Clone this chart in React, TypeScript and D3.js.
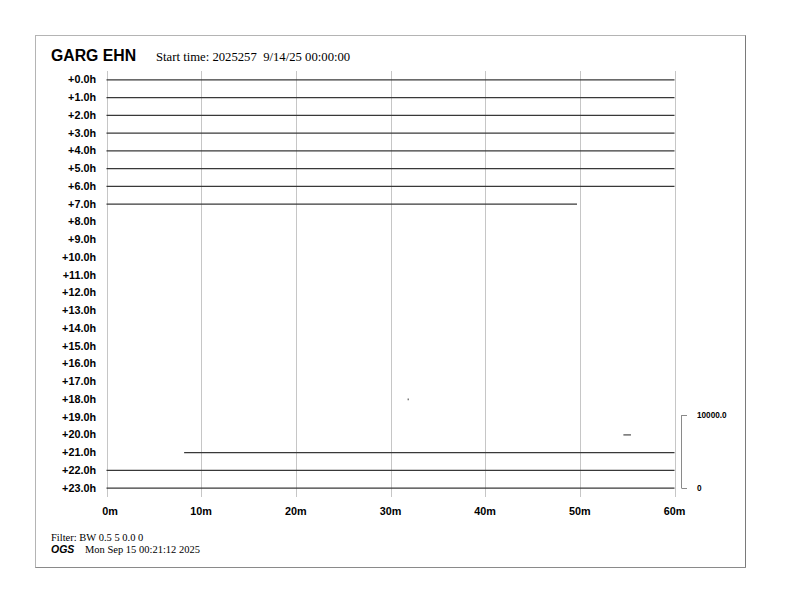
import React from "react";
import * as d3 from "d3";

// Helicorder header
const station = "GARG EHN";
const startTime = "Start time: 2025257  9/14/25 00:00:00";
const filterText = "Filter: BW 0.5 5 0.0 0";
const agency = "OGS";
const plotTime = "Mon Sep 15 00:21:12 2025";

// One row per hour, 60 minutes across
const hourLabels = d3.range(24).map((h) => `+${h.toFixed(1)}h`);
const minuteTicks = [0, 10, 20, 30, 40, 50, 60];

// Recorded data segments: row (hour offset), start/end minute
const segRows = [0, 1, 2, 3, 4, 5, 6, 7, 18, 20, 21, 22, 23];
const segStart = [0, 0, 0, 0, 0, 0, 0, 0, 31.8, 54.6, 8.2, 0, 0];
const segEnd = [60, 60, 60, 60, 60, 60, 60, 49.7, 31.95, 55.4, 60, 60, 60];

// Amplitude scale bar (counts)
const ampTicks = [0, 10000];

const W = 792;
const H = 612;

export default function App() {
  const x = d3.scaleLinear().domain([0, 60]).range([106.5, 674.5]);
  const y = d3
    .scalePoint<number>()
    .domain(d3.range(24))
    .range([71, 497])
    .padding(0.5);
  const amp = d3.scaleLinear().domain([0, 10000]).range([y(23)!, y(19)! - 2]);

  const line = d3
    .line<[number, number]>()
    .x((d) => x(d[0]))
    .y((d) => y(d[1])!);

  const sans = "'Liberation Sans', Arial, sans-serif";
  const serif = "'Liberation Serif', 'Times New Roman', serif";

  return (
    <svg
      width={W}
      height={H}
      style={{ position: "absolute", left: 0, top: 0, background: "#fff" }}
    >
      {/* frame */}
      <rect x={35.5} y={35.5} width={710} height={532} fill="none" stroke="#b4b4b4" />
      <line x1={745.5} x2={745.5} y1={35.5} y2={567.5} stroke="#7a7a7a" />
      <line x1={35.5} x2={745.5} y1={567.5} y2={567.5} stroke="#8a8a8a" />

      {/* titles */}
      <text x={51} y={61} fontFamily={sans} fontWeight="bold" fontSize={15.8} fill="#000">
        {station}
      </text>
      <text
        x={156}
        y={61}
        fontFamily={serif}
        fontSize={12.7}
        fill="#000"
        style={{ whiteSpace: "pre" }}
      >
        {startTime}
      </text>

      {/* minute grid */}
      {minuteTicks.map((m) => (
        <line
          key={`g${m}`}
          x1={Math.round(x(m)) + 0.5}
          x2={Math.round(x(m)) + 0.5}
          y1={71}
          y2={497}
          stroke="#c6c6c6"
          strokeWidth={1}
        />
      ))}

      {/* hour labels */}
      {hourLabels.map((lab, i) => (
        <text
          key={lab}
          x={96}
          y={y(i)! + 3.6}
          textAnchor="end"
          fontFamily={sans}
          fontWeight="bold"
          fontSize={10.8}
          fill="#000"
        >
          {lab}
        </text>
      ))}

      {/* traces */}
      {segRows.map((r, i) => {
        const s = segStart[i];
        const e = segEnd[i];
        const short = e - s < 1;
        return (
          <path
            key={`t${i}`}
            d={line([
              [s, r],
              [e, r],
            ])!}
            fill="none"
            stroke={short ? "#777" : "#383838"}
            strokeWidth={short ? 1.6 : 1.3}
          />
        );
      })}

      {/* minute labels */}
      {minuteTicks.map((m) => (
        <text
          key={`m${m}`}
          x={x(m) + (m === 0 ? 3.5 : 0)}
          y={515}
          textAnchor="middle"
          fontFamily={sans}
          fontWeight="bold"
          fontSize={10.8}
          fill="#000"
        >
          {`${m}m`}
        </text>
      ))}

      {/* amplitude scale bar */}
      <line
        x1={681.5}
        x2={681.5}
        y1={amp(10000)}
        y2={amp(0)}
        stroke="#8a8a8a"
        strokeWidth={1}
      />
      {ampTicks.map((v) => (
        <g key={`a${v}`}>
          <line
            x1={681.5}
            x2={687}
            y1={Math.round(amp(v)) + 0.5}
            y2={Math.round(amp(v)) + 0.5}
            stroke="#8a8a8a"
          />
          <text
            x={697}
            y={amp(v) + 3}
            fontFamily={sans}
            fontWeight="bold"
            fontSize={8.2}
            fill="#000"
          >
            {v === 0 ? "0" : v.toFixed(1)}
          </text>
        </g>
      ))}

      {/* footer */}
      <text x={51} y={541} fontFamily={serif} fontSize={10.5} fill="#000">
        {filterText}
      </text>
      <text
        x={51}
        y={553}
        fontFamily={sans}
        fontWeight="bold"
        fontStyle="italic"
        fontSize={10.5}
        fill="#000"
      >
        {agency}
      </text>
      <text x={85} y={553} fontFamily={serif} fontSize={10.5} fill="#000">
        {plotTime}
      </text>
    </svg>
  );
}
